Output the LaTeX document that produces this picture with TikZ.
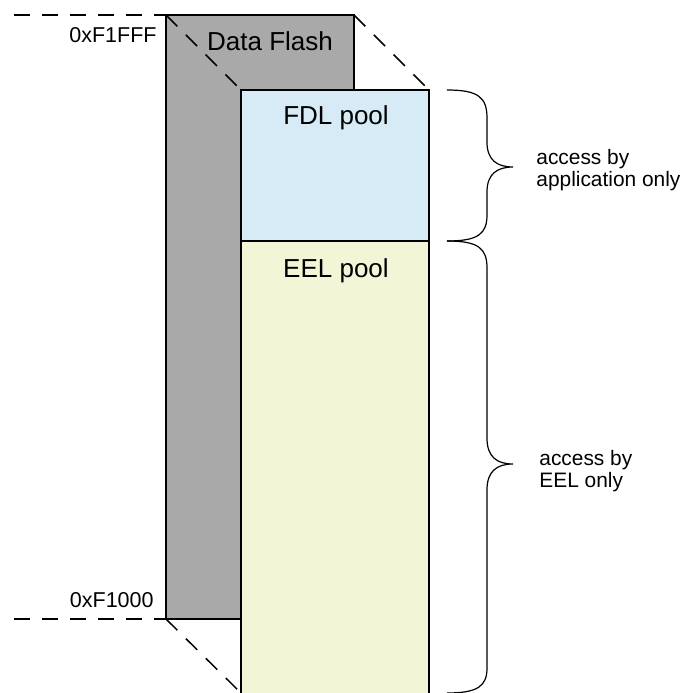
\documentclass[tikz,border=0pt]{standalone}
\usepackage{fontspec}
\setmainfont{Liberation Sans}
\definecolor{flashgray}{RGB}{169,169,169}
\definecolor{fdlblue}{RGB}{214,235,245}
\definecolor{eelgreen}{RGB}{242,246,214}
\begin{document}
\begin{tikzpicture}[x=0.5pt,y=-0.5pt,
  outline/.style={draw=black,line width=0.75pt},
  guide/.style={draw=black,line width=0.75pt,dash pattern=on 8pt off 6pt},
  bracestyle/.style={draw=black,line width=0.6pt},
  title/.style={font=\fontsize{13}{15}\selectfont,inner sep=0pt},
  addr/.style={font=\fontsize{10.75}{11.5}\selectfont,inner sep=0pt},
  label/.style={font=\fontsize{10.45}{11.5}\selectfont,inner sep=0pt}]
\useasboundingbox (0,0) rectangle (682,693);
\clip (0,0) rectangle (682,693);
% gray data flash block
\fill[flashgray] (166,15) rectangle (354,619);
\draw[outline] (166,619) -- (166,15) -- (354,15) -- (354,90);
\draw[outline] (166,619) -- (241,619);
% front pools
\fill[fdlblue] (241,90) rectangle (429,241);
\fill[eelgreen] (241,241) rectangle (429,700);
\draw[outline] (241,700) -- (241,90) -- (429,90) -- (429,700);
\draw[outline] (241,241) -- (429,241);
% dashed guides
\draw[guide] (14,15) -- (166,15);
\draw[guide] (14,619) -- (166,619);
\draw[guide] (166,15) -- (241,90);
\draw[guide] (354,15) -- (429,90);
\draw[guide] (166,619) -- (241,693);
% braces
\draw[bracestyle] (447,90) .. controls (478,90) and (487,97) .. (487,118)
  -- (487,142) .. controls (487,160) and (497,167) .. (513,167)
  .. controls (497,167) and (487,174) .. (487,192)
  -- (487,215) .. controls (487,234) and (478,241) .. (447,241);
\draw[bracestyle] (447,241) .. controls (478,241) and (487,248) .. (487,268)
  -- (487,438) .. controls (487,457) and (497,464) .. (513,464)
  .. controls (497,464) and (487,471) .. (487,490)
  -- (487,668) .. controls (487,686) and (478,693) .. (447,693);
% texts
\node[addr,anchor=base east] (addrtop) at (157,42) {0xF1FFF};
\node[addr,anchor=base east] (addrbot) at (154,607) {0xF1000};
\node[title,anchor=base] (dataflash) at (270,50) {Data Flash};
\node[title,anchor=base] (fdl) at (336,124) {FDL pool};
\node[title,anchor=base] (eel) at (336,277) {EEL pool};
\node[label,anchor=base west] (appa) at (536,164) {access by};
\node[label,anchor=base west] (appb) at (536,186) {application only};
\node[label,anchor=base west] (eela) at (539,465) {access by};
\node[label,anchor=base west] (eelb) at (539,487) {EEL only};
\end{tikzpicture}
\end{document}
